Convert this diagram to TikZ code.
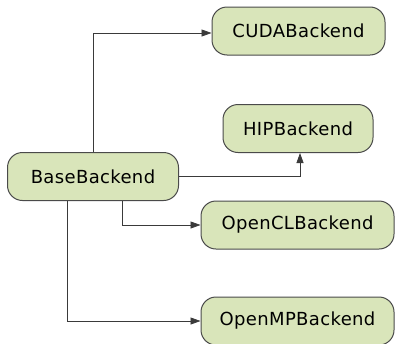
\documentclass[tikz,border=0pt]{standalone}
\usepackage{fontspec}
\setmainfont[LetterSpace = 2]{DejaVu Sans}
\usetikzlibrary{arrows.meta}

\definecolor{boxfill}{HTML}{D9E5BA}
\definecolor{boxline}{HTML}{4A4A4A}
\definecolor{linkgray}{HTML}{3A3A3A}

\tikzset{
  backend/.style = {draw = boxline, fill = boxfill, line width = 1pt,
    rounded corners = 15pt, minimum height = 48pt, inner xsep = 0pt,
    font = \fontsize{18}{21}\selectfont},
  link/.style = {draw = linkgray, line width = 0.8pt,
    -{Triangle[length = 10pt, width = 7pt]}}
}

\begin{document}
\begin{tikzpicture}[x = 1pt, y = -1pt]
  \useasboundingbox (0, 0) rectangle (395, 343);

  \node[backend, minimum width = 171pt] (base)   at (93, 176.5)  {BaseBackend};
  \node[backend, minimum width = 173pt] (cuda)   at (298.5, 31)  {CUDABackend};
  \node[backend, minimum width = 150pt] (hip)    at (298, 128.5) {HIPBackend};
  \node[backend, minimum width = 193pt] (opencl) at (297.5, 225) {OpenCLBackend};
  \node[backend, minimum width = 193pt] (openmp) at (297.5, 321) {OpenMPBackend};

  \draw[link] (base.north) |- ([yshift = -2pt]cuda.west);
  \draw[link] (base.east) -| ([xshift = 2pt]hip.south);
  \draw[link] ([xshift = 29pt]base.south) |- (opencl.west);
  \draw[link] ([xshift = -26pt]base.south) |- (openmp.west);
\end{tikzpicture}
\end{document}
